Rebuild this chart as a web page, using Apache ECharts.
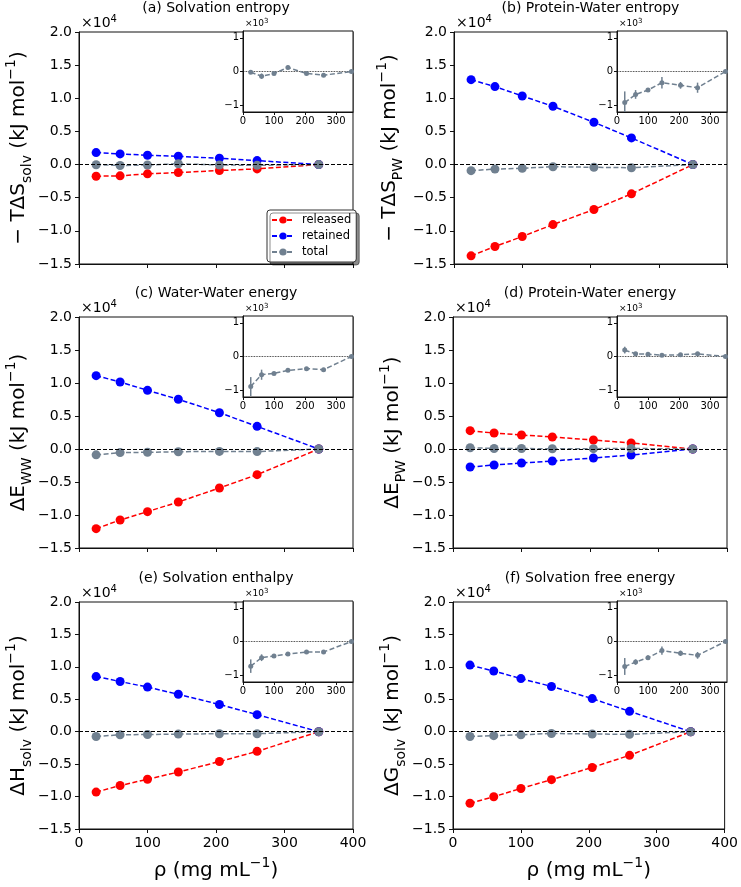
<!DOCTYPE html>
<html><head><meta charset="utf-8">
<script src="https://cdn.jsdelivr.net/npm/echarts@6/dist/echarts.min.js"></script>
<style>html,body{margin:0;padding:0;background:#fff}#c{width:741px;height:887px}</style>
</head><body><div id="c"></div>
<script>
// ---------- data ----------
const rho = [25, 60, 100, 145, 205, 260, 350];
const mainXTicks = [0, 100, 200, 300, 400];
const mainYTicks = [-1.5, -1.0, -0.5, 0.0, 0.5, 1.0, 1.5, 2.0]; // x10^4
const insetXTicks = [0, 100, 200, 300];
const insetYTicks = [-1, 0, 1]; // x10^3
const seriesNames = ['released', 'retained', 'total'];
const panelTitles = ['(a) Solvation entropy', '(b) Protein-Water entropy', '(c) Water-Water energy',
  '(d) Protein-Water energy', '(e) Solvation enthalpy', '(f) Solvation free energy'];
const yLabels = ['\u2212 T\u0394S{sub|solv} (kJ mol{sup|\u22121})', '\u2212 T\u0394S{sub|PW} (kJ mol{sup|\u22121})',
  '\u0394E{sub|WW} (kJ mol{sup|\u22121})', '\u0394E{sub|PW} (kJ mol{sup|\u22121})',
  '\u0394H{sub|solv} (kJ mol{sup|\u22121})', '\u0394G{sub|solv} (kJ mol{sup|\u22121})'];
const xLabel = '\u03c1 (mg mL{sup|\u22121})';

// (a) solvation entropy
const releasedA = [-1760, -1700, -1400, -1200, -900, -650, 0];
const retainedA = [1810, 1610, 1400, 1250, 950, 600, 0];
const totalA = [-20, -140, -60, 120, -60, -110, 0];
const totalErrA = [30, 80, 30, 60, 30, 40, 0];
// (b) protein-water entropy
const releasedB = [-13770, -12360, -10850, -9050, -6780, -4420, 0];
const retainedB = [12810, 11760, 10350, 8790, 6380, 4020, 0];
const totalB = [-920, -680, -550, -330, -410, -480, 0];
const totalErrB = [330, 130, 60, 170, 100, 150, 0];
// (c) water-water energy
const releasedC = [-12070, -10760, -9490, -8030, -5910, -3890, 0];
const retainedC = [11110, 10150, 8890, 7530, 5500, 3430, 0];
const totalC = [-890, -540, -500, -410, -360, -390, 0];
const totalErrC = [280, 150, 40, 30, 30, 30, 0];
// (d) protein-water energy
const releasedD = [2780, 2420, 2120, 1820, 1360, 910, 0];
const retainedD = [-2730, -2420, -2120, -1820, -1360, -910, 0];
const totalD = [190, 80, 70, 40, 50, 80, 0];
const totalErrD = [100, 30, 30, 20, 20, 30, 0];
// (e) solvation enthalpy
const releasedE = [-9310, -8300, -7330, -6220, -4600, -3030, 0];
const retainedE = [8500, 7740, 6880, 5770, 4200, 2630, 0];
const totalE = [-730, -480, -430, -370, -310, -310, 0];
const totalErrE = [200, 100, 30, 30, 30, 30, 0];
// (f) solvation free energy
const releasedF = [-11030, -10020, -8750, -7390, -5510, -3640, 0];
const retainedF = [10270, 9360, 8190, 6980, 5110, 3140, 0];
const totalF = [-740, -610, -480, -270, -350, -410, 0];
const totalErrF = [250, 80, 70, 120, 80, 100, 0];

// ---------- build ----------
const FONT = 'DejaVu Sans';
const RED = '#ff0000', BLUE = '#0000ff', GRAY = '#708090', INK = '#111';
const panelData = [
  [releasedA, retainedA, totalA, totalErrA],
  [releasedB, retainedB, totalB, totalErrB],
  [releasedC, retainedC, totalC, totalErrC],
  [releasedD, retainedD, totalD, totalErrD],
  [releasedE, retainedE, totalE, totalErrE],
  [releasedF, retainedF, totalF, totalErrF]
];
const layout = [
  {left: 79, top: 32, w: 274, h: 232, gap: 45},
  {left: 454, top: 32, w: 273, h: 232, gap: 49},
  {left: 79, top: 317, w: 274, h: 231, gap: 45},
  {left: 453, top: 317, w: 274, h: 231, gap: 45},
  {left: 79, top: 602, w: 274, h: 231, gap: 45},
  {left: 453, top: 602, w: 274, h: 231, gap: 45}
];
const minus = s => String(s).replace('-', '\u2212');
const grids = [], xAxes = [], yAxes = [], series = [], titles = [];

layout.forEach((L, i) => {
  grids.push({left: L.left, top: L.top, width: L.w, height: L.h, show: true,
    borderColor: INK, borderWidth: 1, backgroundColor: '#fff', containLabel: false});
  const bottomRow = i >= 4;
  xAxes.push({type: 'value', gridIndex: i, min: 0, max: 400, interval: 100,
    axisLine: {show: true, onZero: false, lineStyle: {color: INK, width: 1}},
    axisTick: {show: true, length: 4, lineStyle: {color: INK}},
    splitLine: {show: false},
    axisLabel: {show: bottomRow, color: '#000', fontSize: 14, fontFamily: FONT, margin: 7},
    name: bottomRow ? xLabel : '', nameLocation: 'middle', nameGap: 27,
    nameTextStyle: {fontSize: 20, fontFamily: FONT, color: '#000', lineHeight: 30,
      rich: {sup: {fontSize: 14, fontFamily: FONT, verticalAlign: 'top', lineHeight: 14, color: '#000'}}}
  });
  yAxes.push({type: 'value', gridIndex: i, min: -15000, max: 20000, interval: 5000,
    axisLine: {show: true, onZero: false, lineStyle: {color: INK, width: 1}},
    axisTick: {show: true, length: 4, lineStyle: {color: INK}},
    splitLine: {show: false},
    axisLabel: {color: '#000', fontSize: 14, fontFamily: FONT, margin: 7,
      formatter: v => minus((v / 1e4).toFixed(1))},
    name: yLabels[i], nameLocation: 'middle', nameGap: L.gap, nameRotate: 90,
    nameTextStyle: {fontSize: 20, fontFamily: FONT, color: '#000', lineHeight: 30,
      rich: {
        sub: {fontSize: 14, fontFamily: FONT, verticalAlign: 'bottom', lineHeight: 16, color: '#000'},
        sup: {fontSize: 14, fontFamily: FONT, verticalAlign: 'top', lineHeight: 14, color: '#000'}
      }}
  });
  titles.push({text: panelTitles[i], left: L.left + L.w / 2, top: L.top - 31, textAlign: 'center', padding: 0,
    textStyle: {fontSize: 14, fontWeight: 'normal', fontFamily: FONT, color: '#000'}});
  titles.push({text: '\u00d710{s|4}', left: L.left + 2, top: L.top - 18, padding: 0,
    textStyle: {fontSize: 14, fontWeight: 'normal', fontFamily: FONT, color: '#000', lineHeight: 18,
      rich: {s: {fontSize: 10, fontFamily: FONT, verticalAlign: 'top', lineHeight: 12, color: '#000'}}}});
  const [rel, ret, tot] = panelData[i];
  const mk = (name, vals, color, withZero) => {
    const s = {type: 'line', name, xAxisIndex: i, yAxisIndex: i,
      data: rho.map((x, j) => [x, vals[j]]),
      symbol: 'circle', symbolSize: 9, showSymbol: true,
      itemStyle: {color}, lineStyle: {color, width: 1.5, type: [5, 2.5]},
      z: 3, animation: false};
    if (withZero) s.markLine = {silent: true, symbol: 'none', label: {show: false}, animation: false,
      lineStyle: {color: '#000', type: 'dashed', width: 1}, data: [{yAxis: 0}]};
    return s;
  };
  series.push(mk(seriesNames[0], rel, RED, true));
  series.push(mk(seriesNames[1], ret, BLUE, false));
  series.push(mk(seriesNames[2], tot, GRAY, false));
});

// insets
layout.forEach((L, i) => {
  const k = 6 + i;
  const IW = 110, IH = 81;
  const il = L.left + L.w - IW, it = L.top - 1;
  grids.push({left: il, top: it, width: IW, height: IH, show: true, borderColor: INK, borderWidth: 1,
    backgroundColor: '#fff', z: 5});
  xAxes.push({type: 'value', gridIndex: k, min: 0, max: 355, z: 6,
    axisLine: {show: true, onZero: false, lineStyle: {color: INK, width: 1}},
    axisTick: {show: true, length: 3, lineStyle: {color: INK}, customValues: insetXTicks},
    splitLine: {show: false},
    axisLabel: {color: '#000', fontSize: 10, fontFamily: FONT, margin: 4, customValues: insetXTicks}});
  yAxes.push({type: 'value', gridIndex: k, min: -1.2, max: 1.2, z: 6,
    axisLine: {show: true, onZero: false, lineStyle: {color: INK, width: 1}},
    axisTick: {show: true, length: 3, lineStyle: {color: INK}, customValues: insetYTicks},
    splitLine: {show: false},
    axisLabel: {color: '#000', fontSize: 10, fontFamily: FONT, margin: 4, customValues: insetYTicks,
      formatter: v => minus(v)}});
  titles.push({text: '\u00d710{s|3}', left: il + 2, top: it - 13, padding: 0,
    textStyle: {fontSize: 9, fontWeight: 'normal', fontFamily: FONT, color: '#000', lineHeight: 12,
      rich: {s: {fontSize: 7, fontFamily: FONT, verticalAlign: 'top', lineHeight: 8, color: '#000'}}}});
  const tot = panelData[i][2], err = panelData[i][3];
  series.push({type: 'custom', xAxisIndex: k, yAxisIndex: k, z: 7, clip: true, animation: false,
    data: rho.map((x, j) => [x, tot[j] / 1000, err[j] / 1000]),
    encode: {x: 0, y: 1},
    renderItem: (params, api) => {
      const x = api.value(0), y = api.value(1), e = api.value(2);
      const p1 = api.coord([x, y - e]), p2 = api.coord([x, y + e]);
      return {type: 'line', shape: {x1: p1[0], y1: p1[1], x2: p2[0], y2: p2[1]},
        style: {stroke: GRAY, lineWidth: 1.5}};
    }});
  series.push({type: 'line', xAxisIndex: k, yAxisIndex: k, z: 8, animation: false,
    data: rho.map((x, j) => [x, tot[j] / 1000]),
    symbol: 'circle', symbolSize: 5, itemStyle: {color: GRAY},
    lineStyle: {color: GRAY, width: 1.5, type: [5, 2.5]},
    markLine: {silent: true, symbol: 'none', label: {show: false}, animation: false,
      lineStyle: {color: '#000', type: 'dotted', width: 0.8}, data: [{yAxis: 0}]}});
});

const chart = echarts.init(document.getElementById('c'), null, {renderer: 'canvas'});
chart.setOption({
  animation: false,
  backgroundColor: '#fff',
  title: titles,
  grid: grids, xAxis: xAxes, yAxis: yAxes, series,
  legend: {data: seriesNames, orient: 'vertical', left: 267, top: 210, padding: [4, 5, 4, 4],
    itemWidth: 22, itemHeight: 9, itemGap: 4, backgroundColor: '#fff', borderColor: '#333', borderWidth: 1,
    borderRadius: 3, shadowColor: 'rgba(0,0,0,0.45)', shadowBlur: 0, shadowOffsetX: 3, shadowOffsetY: 3,
    textStyle: {fontSize: 11.5, fontFamily: FONT, color: '#000', padding: [0, 0, 0, 3]}, selectedMode: false}
});
</script></body></html>
